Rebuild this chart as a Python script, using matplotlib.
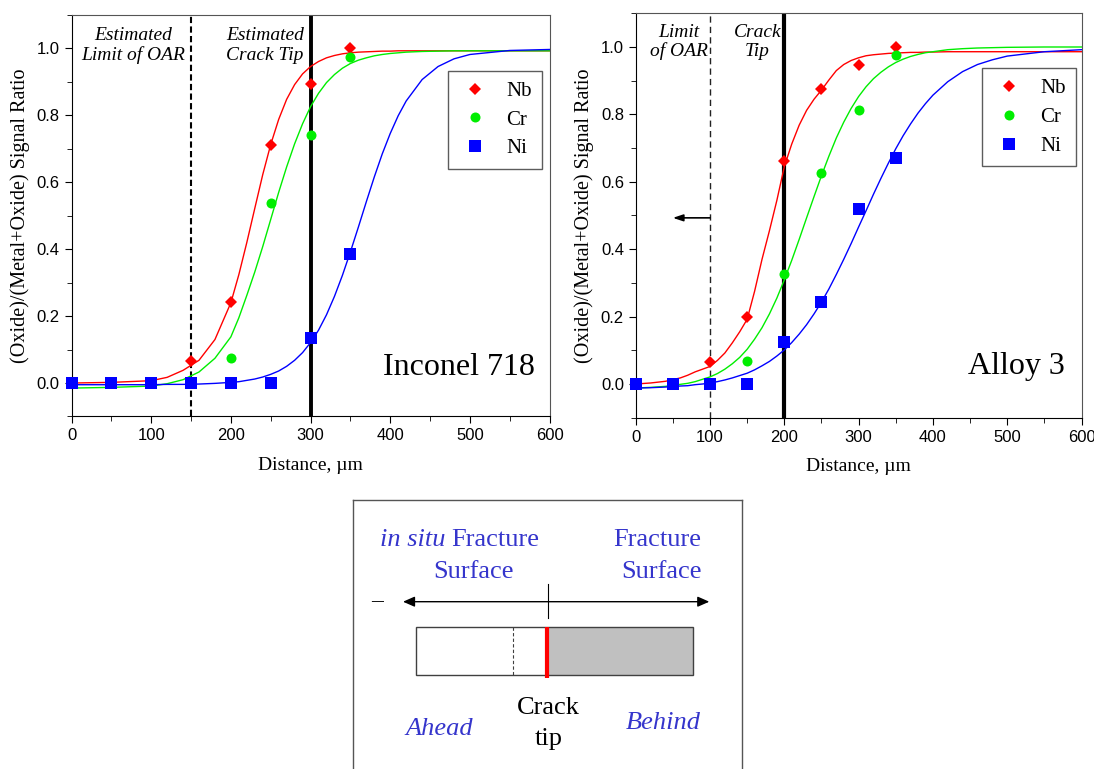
import matplotlib
matplotlib.use("Agg")
import matplotlib.pyplot as plt
import matplotlib.patches as patches
from matplotlib.ticker import MultipleLocator

plt.rcParams['font.family'] = ['Liberation Serif', 'DejaVu Serif']

# measured points (distance in um)
dist_pts = [0, 50, 100, 150, 200, 250, 300, 350]
in718_nb = [0, 0, 0, 0.067, 0.241, 0.712, 0.894, 1.0]
in718_cr = [0, 0, 0, 0, 0.075, 0.538, 0.742, 0.975]
in718_ni = [0, 0, 0, 0, 0, 0, 0.135, 0.385]
a3_nb = [0, 0, 0.065, 0.199, 0.662, 0.875, 0.946, 1.0]
a3_cr = [0, 0, 0, 0.067, 0.326, 0.625, 0.814, 0.977]
a3_ni = [0, 0, 0, 0, 0.125, 0.244, 0.518, 0.672]

# fitted curves
fit_x_718 = [0, 50, 100, 120, 140, 160, 180, 200, 210, 220, 230, 240, 250, 260,
             270, 280, 290, 300, 310, 320, 330, 340, 350, 360, 370, 380, 390,
             400, 410, 420, 440, 460, 480, 500, 550, 600]
fit_718_nb = [0.000, 0.002, 0.007, 0.017, 0.038, 0.068, 0.130, 0.240, 0.324, 0.420,
              0.522, 0.623, 0.713, 0.788, 0.848, 0.892, 0.924, 0.946, 0.961, 0.972,
              0.979, 0.984, 0.987, 0.989, 0.990, 0.991, 0.992, 0.992, 0.993, 0.993,
              0.993, 0.993, 0.993, 0.993, 0.993, 0.993]
fit_718_cr = [-0.015, -0.013, -0.009, -0.002, 0.010, 0.033, 0.074, 0.138, 0.195, 0.262,
              0.332, 0.408, 0.489, 0.570, 0.646, 0.715, 0.775, 0.826, 0.866, 0.898,
              0.922, 0.941, 0.955, 0.965, 0.972, 0.978, 0.982, 0.985, 0.987, 0.989,
              0.991, 0.992, 0.993, 0.993, 0.993, 0.993]
fit_718_ni = [-0.005, -0.005, -0.005, -0.004, -0.004, -0.003, -0.001, 0.002, 0.004, 0.008,
              0.012, 0.018, 0.026, 0.036, 0.050, 0.068, 0.091, 0.121, 0.158, 0.204,
              0.259, 0.322, 0.392, 0.466, 0.542, 0.616, 0.685, 0.746, 0.799, 0.843,
              0.907, 0.946, 0.969, 0.982, 0.994, 0.997]

fit_x_a3 = [0, 20, 40, 60, 70, 80, 90, 100, 110, 120, 130, 140, 150, 160, 170, 180,
            190, 200, 210, 220, 230, 240, 250, 260, 270, 280, 290, 300, 310, 320,
            330, 340, 350, 360, 370, 380, 390, 400, 420, 440, 460, 480, 500, 550, 600]
fit_a3_nb = [0.000, 0.003, 0.008, 0.018, 0.026, 0.036, 0.044, 0.052, 0.070, 0.092,
             0.122, 0.155, 0.192, 0.275, 0.370, 0.455, 0.545, 0.645, 0.712, 0.768,
             0.812, 0.845, 0.872, 0.902, 0.930, 0.948, 0.960, 0.968, 0.974, 0.977,
             0.979, 0.981, 0.982, 0.983, 0.984, 0.984, 0.985, 0.985, 0.986, 0.986,
             0.986, 0.986, 0.986, 0.986, 0.986]
fit_a3_cr = [-0.012, -0.010, -0.007, -0.001, 0.002, 0.007, 0.014, 0.021, 0.031, 0.044,
             0.060, 0.079, 0.103, 0.133, 0.167, 0.208, 0.255, 0.309, 0.367, 0.429,
             0.493, 0.556, 0.618, 0.676, 0.730, 0.777, 0.818, 0.853, 0.882, 0.906,
             0.925, 0.941, 0.954, 0.964, 0.972, 0.978, 0.983, 0.986, 0.992, 0.995,
             0.997, 0.998, 0.999, 1.000, 1.000]
fit_a3_ni = [-0.012, -0.011, -0.009, -0.006, -0.005, -0.002, 0.000, 0.003, 0.007, 0.012,
             0.018, 0.025, 0.032, 0.042, 0.054, 0.067, 0.083, 0.101, 0.123, 0.148,
             0.176, 0.208, 0.243, 0.282, 0.325, 0.370, 0.417, 0.466, 0.514, 0.563,
             0.610, 0.655, 0.698, 0.737, 0.772, 0.804, 0.832, 0.857, 0.897, 0.927,
             0.948, 0.962, 0.973, 0.986, 0.992]

elements = ['Nb', 'Cr', 'Ni']
colors = ['#FF0000', '#00EE00', '#0000FF']
markers = ['D', 'o', 's']
msizes = [6.3, 7.2, 8.0]

fig = plt.figure(figsize=(10.94, 7.69), dpi=100)
ax1 = fig.add_axes([0.06536, 0.45839, 0.43702, 0.52210])
ax2 = fig.add_axes([0.58108, 0.45683, 0.40750, 0.52588])


def style_axes(ax):
    ax.set_xlim(0, 600)
    ax.set_ylim(-0.1, 1.1)
    ax.xaxis.set_major_locator(MultipleLocator(100))
    ax.xaxis.set_minor_locator(MultipleLocator(50))
    ax.set_yticks([0, 0.2, 0.4, 0.6, 0.8, 1.0])
    ax.yaxis.set_minor_locator(MultipleLocator(0.1))
    ax.yaxis.set_major_formatter('{x:.1f}')
    for s in ['top', 'right']:
        ax.spines[s].set_color('#555555')
    ax.tick_params(which='both', direction='out', top=False, right=False,
                   labelsize=12, labelfontfamily='Liberation Sans')
    ax.tick_params(which='major', length=5)
    ax.tick_params(which='minor', length=3.5)
    ax.set_xlabel('Distance, µm', fontsize=14, labelpad=10)
    ax.set_ylabel('(Oxide)/(Metal+Oxide) Signal Ratio', fontsize=14.5, labelpad=5)


def draw_panel(ax, pts, fit_x, fits, legend_anchor):
    for fy, c in zip(fits, colors):
        ax.plot(fit_x, fy, color=c, lw=1.0, zorder=3)
    for ys, c, m, ms, name in zip(pts, colors, markers, msizes, elements):
        ax.plot(dist_pts, ys, ls='none', marker=m, ms=ms, color=c,
                markeredgewidth=0, label=name, zorder=4, clip_on=False)
    leg = ax.legend(loc='upper right', bbox_to_anchor=legend_anchor, fontsize=15,
                    frameon=True, fancybox=False, edgecolor='#333333',
                    borderpad=0.5, handlelength=1.6, handletextpad=0.7,
                    labelspacing=0.44, numpoints=1, borderaxespad=0)
    leg.get_frame().set_linewidth(1.0)
    leg.set_zorder(5)


# Inconel 718
style_axes(ax1)
ax1.axvline(150, color='black', lw=1.5, ls=(0, (3, 1.6)), zorder=2)
ax1.axvline(300, color='black', lw=2.8, zorder=2)
draw_panel(ax1, [in718_nb, in718_cr, in718_ni], fit_x_718,
           [fit_718_nb, fit_718_cr, fit_718_ni], (0.984, 0.861))
ax1.text(77.5, 1.025, 'Estimated', style='italic', fontsize=14, ha='center', va='baseline')
ax1.text(77.5, 0.966, 'Limit of OAR', style='italic', fontsize=14, ha='center', va='baseline')
ax1.text(243, 1.025, 'Estimated', style='italic', fontsize=14, ha='center', va='baseline')
ax1.text(243, 0.966, 'Crack Tip', style='italic', fontsize=14, ha='center', va='baseline')
ax1.text(581, 0.024, 'Inconel 718', fontsize=23, ha='right', va='baseline')

# Alloy 3
style_axes(ax2)
ax2.axvline(100, color='#222222', lw=1.0, ls=(0, (4.5, 3)), zorder=2)
ax2.axvline(200, color='black', lw=3.0, zorder=2)
draw_panel(ax2, [a3_nb, a3_cr, a3_ni], fit_x_a3,
           [fit_a3_nb, fit_a3_cr, fit_a3_ni], (0.9886, 0.864))
ax2.text(57.6, 1.030, 'Limit', style='italic', fontsize=14, ha='center', va='baseline')
ax2.text(57.6, 0.972, 'of OAR', style='italic', fontsize=14, ha='center', va='baseline')
ax2.text(164, 1.030, 'Crack', style='italic', fontsize=14, ha='center', va='baseline')
ax2.text(164, 0.972, 'Tip', style='italic', fontsize=14, ha='center', va='baseline')
ax2.text(577, 0.029, 'Alloy 3', fontsize=23, ha='right', va='baseline')
ax2.annotate('', xy=(50, 0.493), xytext=(100, 0.493),
             arrowprops=dict(arrowstyle='-|>,head_length=0.6,head_width=0.2',
                             lw=1.2, color='black', shrinkA=0, shrinkB=0,
                             mutation_scale=10))

# schematic of the specimen below (pixel coordinates of the figure)
axd = fig.add_axes([352.7 / 1094, 0, 389.6 / 1094, 269.3 / 769])
axd.set_xlim(352.7, 742.3)
axd.set_ylim(769, 499.7)
axd.set_xticks([])
axd.set_yticks([])
for s in ['top', 'left', 'right']:
    axd.spines[s].set_color('#555555')
    axd.spines[s].set_linewidth(1.0)
axd.spines['bottom'].set_visible(False)

blue_txt = '#3535CC'
axd.text(380, 545.7, 'in situ', style='italic', fontsize=19, color=blue_txt,
         ha='left', va='baseline')
axd.text(451.7, 545.7, 'Fracture', fontsize=19, color=blue_txt, ha='left', va='baseline')
axd.text(473.7, 578.3, 'Surface', fontsize=19, color=blue_txt, ha='center', va='baseline')
axd.text(701.7, 545.7, 'Fracture', fontsize=19, color=blue_txt, ha='right', va='baseline')
axd.text(701.7, 578.3, 'Surface', fontsize=19, color=blue_txt, ha='right', va='baseline')
axd.text(377.5, 602, '–', fontsize=17, color='black', ha='center', va='center')

axd.annotate('', xy=(709.3, 601.7), xytext=(403, 601.7),
             arrowprops=dict(arrowstyle='<|-|>,head_length=0.5,head_width=0.22',
                             lw=1.0, color='black', shrinkA=0, shrinkB=0,
                             mutation_scale=14))
axd.plot([548, 548], [584, 618], color='black', lw=0.8)

axd.add_patch(patches.Rectangle((547.3, 627.3), 693.3 - 547.3, 675 - 627.3,
                                facecolor='#C0C0C0', edgecolor='none'))
axd.add_patch(patches.Rectangle((415.7, 627.3), 693.3 - 415.7, 675 - 627.3,
                                facecolor='none', edgecolor='#404040', lw=1.0))
axd.plot([513.3, 513.3], [627.3, 675], color='#404040', lw=0.8, ls=(0, (3, 2)))
axd.plot([547.3, 547.3], [626.5, 678], color='#FF0000', lw=3, solid_capstyle='butt')

axd.text(548.3, 714, 'Crack', fontsize=19, color='black', ha='center', va='baseline')
axd.text(548.3, 745, 'tip', fontsize=19, color='black', ha='center', va='baseline')
axd.text(439.2, 735, 'Ahead', style='italic', fontsize=19, color=blue_txt,
         ha='center', va='baseline')
axd.text(662.8, 729.3, 'Behind', style='italic', fontsize=19, color=blue_txt,
         ha='center', va='baseline')

fig.savefig('out.png', dpi=100)
